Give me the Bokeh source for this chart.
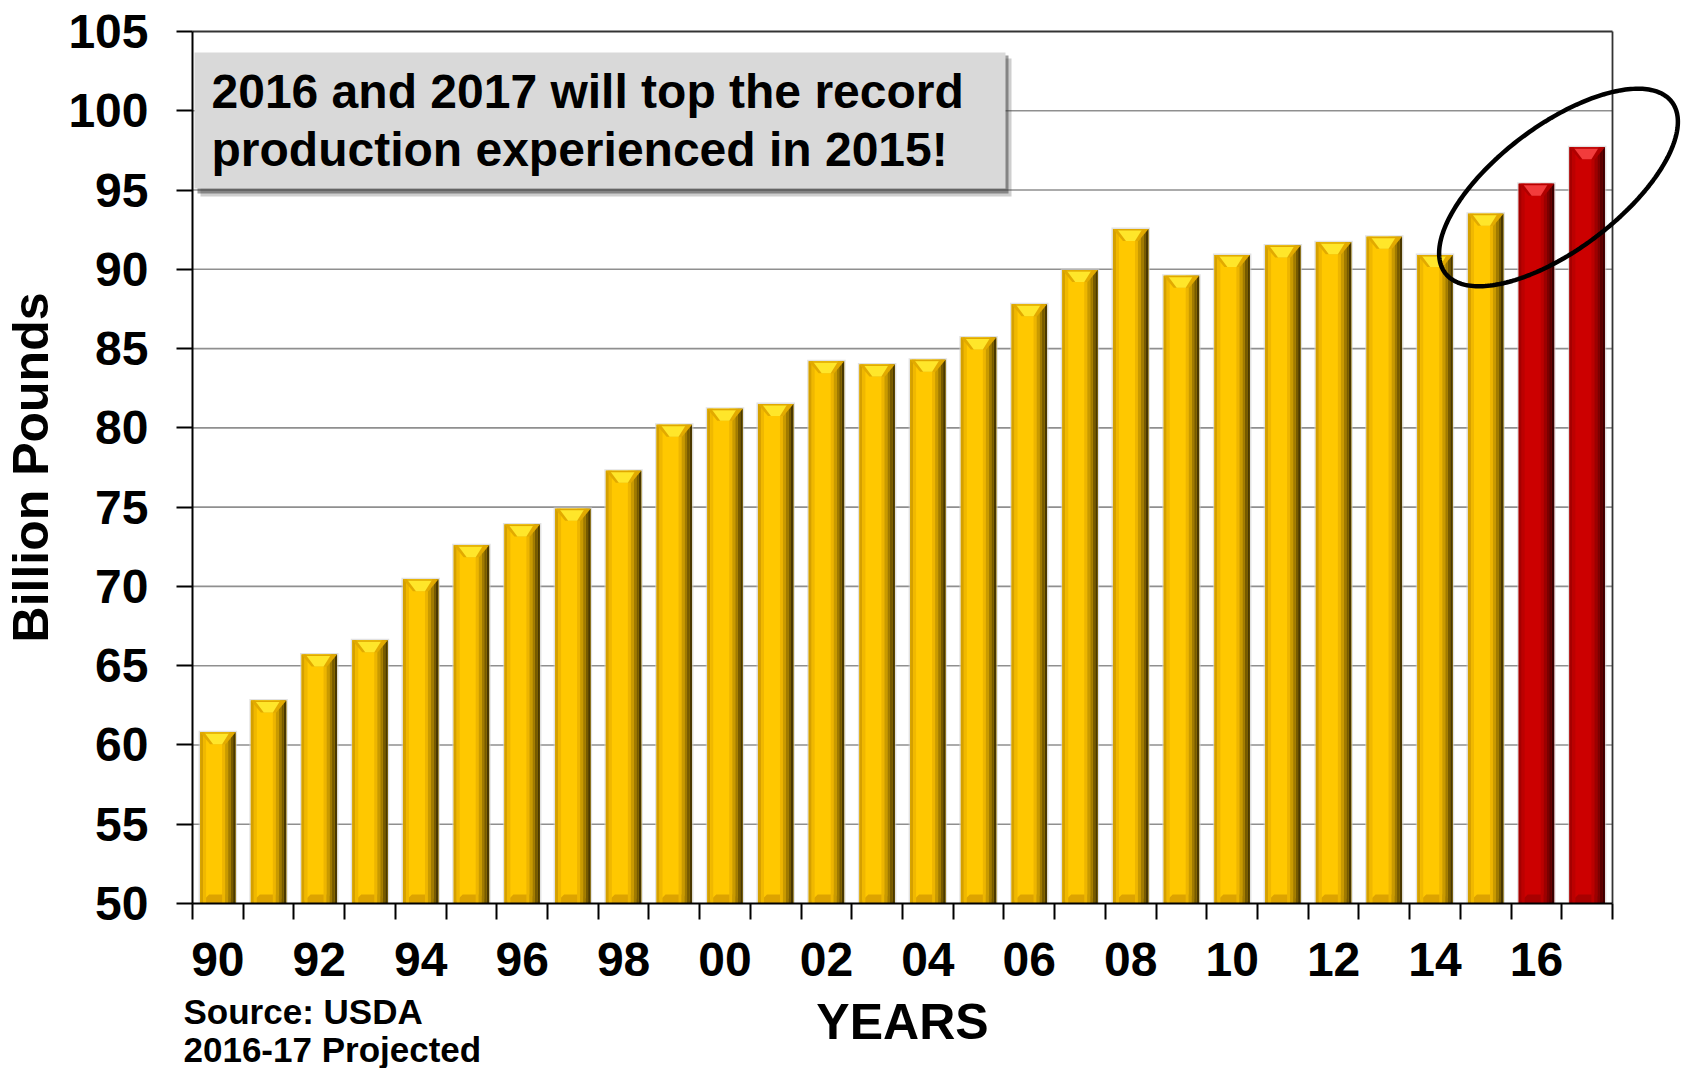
import numpy as np
from bokeh.plotting import figure
from bokeh.models import Range1d, FixedTicker, BoxAnnotation, Label, PolyAnnotation
from bokeh.embed import file_html
from bokeh.resources import INLINE

# ---------------- data ----------------
years = list(range(1990, 2018))
production = [60.8, 62.8, 65.7, 66.6, 70.45, 72.6, 73.9, 74.9, 77.3, 80.2,
              81.2, 81.5, 84.2, 84.0, 84.3, 85.7, 87.8, 89.95, 92.55, 89.6,
              90.9, 91.5, 91.7, 92.05, 90.9, 93.5, 95.4, 97.7]
projected_from = 2016
y_ticks = [50, 55, 60, 65, 70, 75, 80, 85, 90, 95, 100, 105]
x_label_years = years[::2]
x_labels = {int(y): "%02d" % (y % 100) for y in x_label_years}
note_lines = ["2016 and 2017 will top the record", "production experienced in 2015!"]
source_lines = ["Source: USDA", "2016-17 Projected"]

# ---------------- geometry (pixels of the plot area) ----------------
W_PX, H_PX = 1688, 1068
FL, FR, FT, FB = 192, 1612, 31, 903
X0, X1 = years[0] - 0.5, years[-1] + 0.5
Y0, Y1 = y_ticks[0], y_ticks[-1]
SX = (FR - FL) / (X1 - X0)
SY = (FB - FT) / (Y1 - Y0)


def dx(px):
    return X0 + (px - FL) / SX


def dy(py):
    return Y0 + (FB - py) / SY


FONT = "Liberation Sans"

p = figure(width=W_PX, height=H_PX, output_backend="svg", toolbar_location=None,
           x_range=Range1d(dx(0), dx(W_PX)), y_range=Range1d(dy(H_PX), dy(0)),
           min_border=0, min_border_left=0, min_border_right=0,
           min_border_top=0, min_border_bottom=0)
p.background_fill_color = "white"
p.border_fill_color = "white"
p.outline_line_color = None
p.xgrid.grid_line_color = None
p.ygrid.grid_line_color = None

# axes placed at the plot-area edges
p.yaxis.fixed_location = X0
p.yaxis.bounds = (Y0, Y1)
p.yaxis.ticker = FixedTicker(ticks=y_ticks, minor_ticks=[])
p.yaxis.major_tick_out = 16
p.yaxis.major_tick_in = 0
p.yaxis.minor_tick_out = 0
p.yaxis.minor_tick_in = 0
p.yaxis.major_label_standoff = 28
p.yaxis.major_label_text_font = FONT
p.yaxis.major_label_text_font_style = "bold"
p.yaxis.major_label_text_font_size = "48px"
p.yaxis.major_label_text_color = "black"
p.yaxis.axis_label = "Billion Pounds"
p.yaxis.axis_label_text_font = FONT
p.yaxis.axis_label_text_font_style = "bold"
p.yaxis.axis_label_text_font_size = "50px"
p.yaxis.axis_label_text_color = "black"
p.yaxis.axis_label_standoff = 6

boundaries = [y - 0.5 for y in years] + [years[-1] + 0.5]
p.xaxis.fixed_location = Y0
p.xaxis.bounds = (X0, X1)
p.xaxis.ticker = FixedTicker(ticks=x_label_years, minor_ticks=boundaries)
p.xaxis.major_label_overrides = x_labels
p.xaxis.major_tick_out = 0
p.xaxis.major_tick_in = 0
p.xaxis.minor_tick_out = 16
p.xaxis.minor_tick_in = 0
p.xaxis.major_label_standoff = 23
p.xaxis.major_label_text_font = FONT
p.xaxis.major_label_text_font_style = "bold"
p.xaxis.major_label_text_font_size = "48px"
p.xaxis.major_label_text_color = "black"
p.xaxis.axis_label = "YEARS"
p.xaxis.axis_label_text_font = FONT
p.xaxis.axis_label_text_font_style = "bold"
p.xaxis.axis_label_text_font_size = "50px"
p.xaxis.axis_label_text_color = "black"
p.xaxis.axis_label_standoff = 15

for ax in (p.xaxis, p.yaxis):
    ax.axis_line_color = "black"
    ax.axis_line_width = 2
    ax.major_tick_line_color = "black"
    ax.major_tick_line_width = 2
    ax.minor_tick_line_color = "black"
    ax.minor_tick_line_width = 2

# grid lines and the top / right border of the plot area
grid_vals = y_ticks[1:-1]
p.segment(x0=[X0] * len(grid_vals), x1=[X1] * len(grid_vals), y0=grid_vals, y1=grid_vals,
          line_color="#8f8f8f", line_width=1.6)
p.segment(x0=[X0, X1], x1=[X1, X1], y0=[Y1, Y0], y1=[Y1, Y1],
          line_color="#333333", line_width=1.8)

# ---------------- bars ----------------
xs = np.array(years, dtype=float)
vals = np.array(production, dtype=float)
proj = xs >= projected_from
BW = 0.7
px = 1.0 / SX
py = 1.0 / SY
L = xs - BW / 2
R = xs + BW / 2


def pick(gold, red):
    return [red if f else gold for f in proj]


p.quad(left=L - 1.5 * px, right=R + 1.5 * px, bottom=Y0, top=vals + 1.5 * py,
       fill_color="#cfcfcf", fill_alpha=0.6, line_color=None)
p.quad(left=L, right=R, bottom=Y0, top=vals,
       fill_color=pick("#FFC800", "#CC0000"), line_color=None)
bx, by = [], []
for l, r in zip(L, R):
    bx.append([l, r, r - 9 * px, l + 9 * px])
    by.append([Y0, Y0, Y0 + 9 * py, Y0 + 9 * py])
p.patches(bx, by, fill_color=pick("#DDA300", "#A80000"), line_color=None)
p.quad(left=L, right=L + 3 * px, bottom=Y0, top=vals,
       fill_color=pick("#D5A000", "#A50000"), line_color=None)
p.quad(left=L + 3 * px, right=L + 6 * px, bottom=Y0, top=vals,
       fill_color=pick("#F0B800", "#BC0000"), line_color=None)
shades_gold = ["#EDB500", "#C99A00", "#A07A00", "#765A00", "#4A3800"]
shades_red = ["#BA0000", "#9C0000", "#7C0000", "#5C0000", "#3A0000"]
starts = [22, 25, 28, 30.5, 33]
ends = [25, 28, 30.5, 33, 35.5]
for s, e, cg, cr in zip(starts, ends, shades_gold, shades_red):
    p.quad(left=L + s * px, right=L + e * px, bottom=Y0, top=vals,
           fill_color=pick(cg, cr), line_color=None)
tx, ty, hx, hy = [], [], [], []
for l, r, v in zip(L, R, vals):
    tx.append([l, r, r - 10 * px, l + 10 * px])
    ty.append([v, v, v - 12 * py, v - 12 * py])
    hx.append([l + 4 * px, r - 6 * px, l + 22 * px, l + 13 * px])
    hy.append([v, v, v - 12 * py, v - 12 * py])
p.patches(tx, ty, fill_color=pick("#E2AA00", "#B00000"), line_color=None)
p.patches(hx, hy, fill_color=pick("#FFE62A", "#F23C3C"), line_color=None)
p.quad(left=L + 2 * px, right=R - 2 * px, bottom=vals - 1.5 * py, top=vals,
       fill_color=pick("#E0A800", "#B80000"), line_color=None)

# ---------------- callout box ----------------
p.add_layout(BoxAnnotation(left=dx(200), right=dx(1011), top=dy(58), bottom=dy(196),
                           fill_color="#3a3a3a", fill_alpha=0.25, line_color=None))
p.add_layout(BoxAnnotation(left=dx(197), right=dx(1008), top=dy(55), bottom=dy(193),
                           fill_color="#3a3a3a", fill_alpha=0.5, line_color=None))
p.add_layout(BoxAnnotation(left=dx(194), right=dx(1005), top=dy(52), bottom=dy(188),
                           fill_color="#D9D9D9", fill_alpha=1.0, line_color=None))
for txt, base_px in zip(note_lines, [91, 149]):
    p.add_layout(Label(x=dx(211), y=dy(base_px), text=txt, text_font=FONT,
                       text_font_style="bold", text_font_size="48px",
                       text_color="black", text_baseline="alphabetic"))

# ---------------- source note ----------------
for txt, base_px in zip(source_lines, [1011, 1049]):
    p.add_layout(Label(x=dx(183), y=dy(base_px), text=txt, text_font=FONT,
                       text_font_style="bold", text_font_size="35px",
                       text_color="black", text_baseline="alphabetic"))

# ---------------- ellipse highlight ----------------
cx, cy, ea, eb, th = 1558.0, 187.0, 142.0, 62.0, np.deg2rad(37.0)
t = np.linspace(0, 2 * np.pi, 240)
ex_px = cx + ea * np.cos(t) * np.cos(th) - eb * np.sin(t) * np.sin(th)
ey_px = cy - (ea * np.cos(t) * np.sin(th) + eb * np.sin(t) * np.cos(th))
p.add_layout(PolyAnnotation(xs=[dx(v) for v in ex_px], ys=[dy(v) for v in ey_px],
                            fill_color=None, fill_alpha=0, line_color="black",
                            line_alpha=1.0, line_width=4.5, level="overlay"))

open("out.html", "w").write(file_html(p, INLINE))
